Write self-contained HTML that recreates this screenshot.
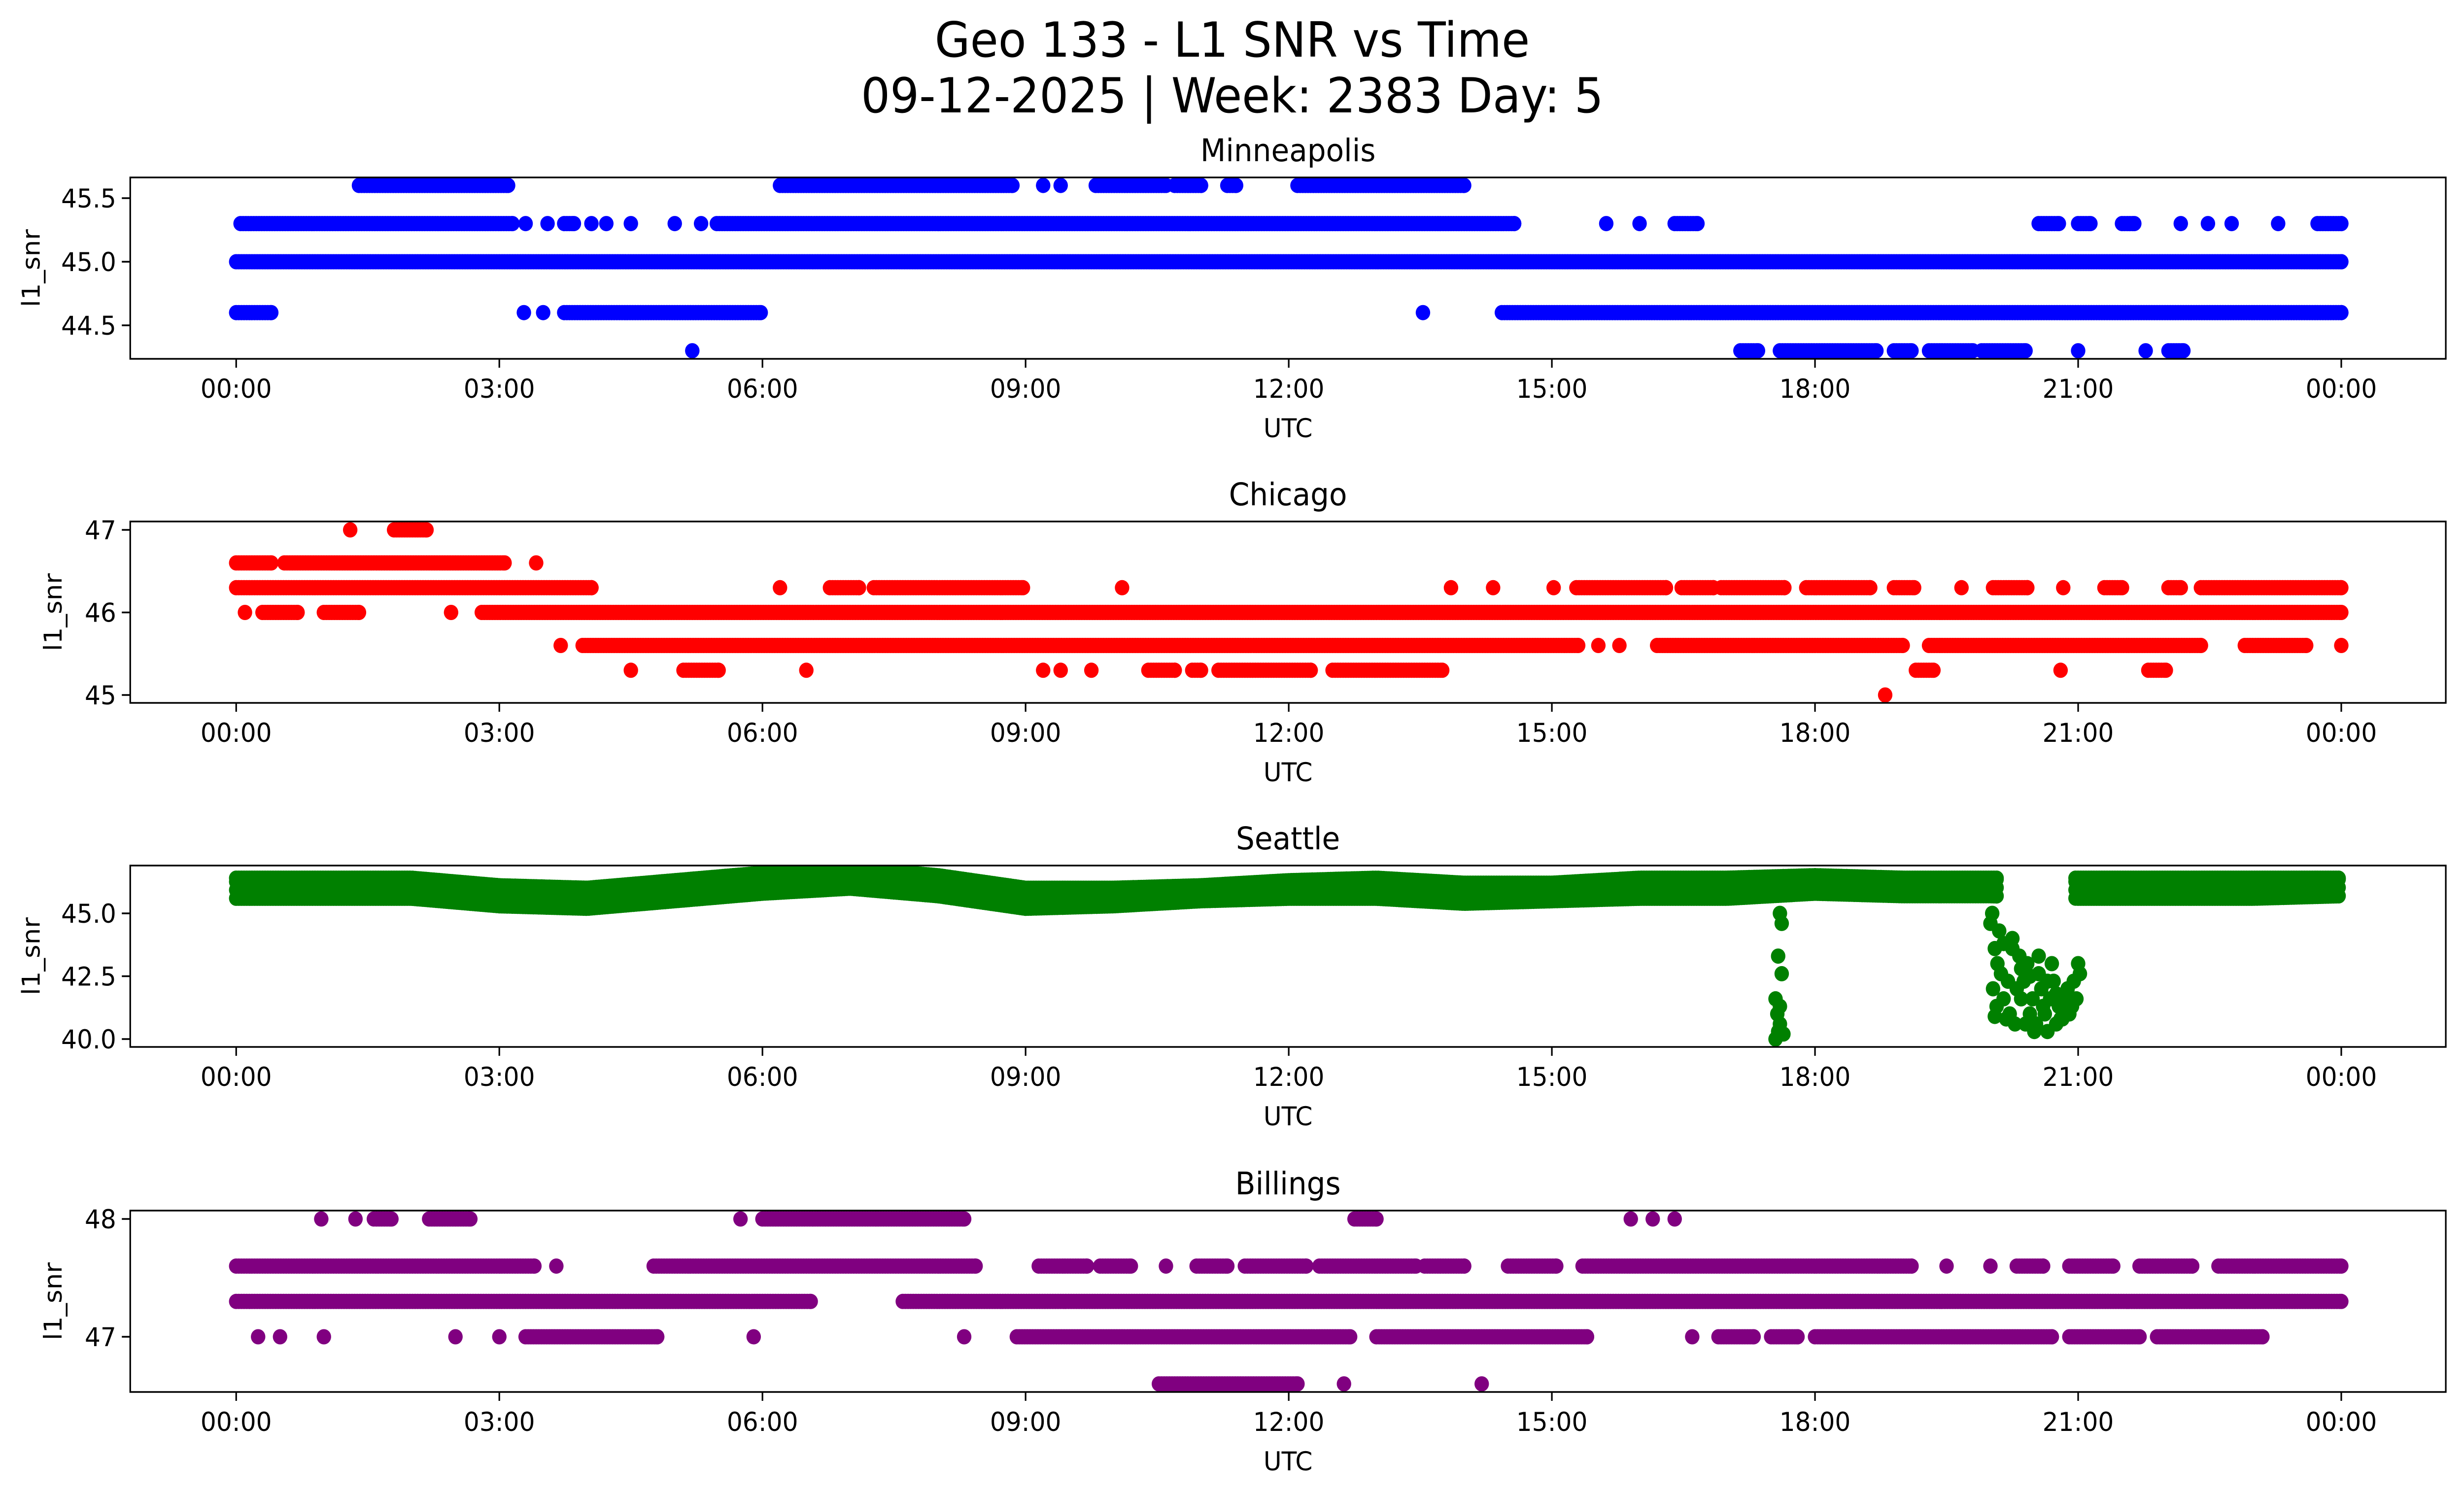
<!DOCTYPE html>
<html><head><meta charset="utf-8"><style>html,body{margin:0;padding:0;background:#fff;width:100%;height:100%;overflow:hidden}svg{display:block;width:100vw;height:100vh}</style></head>
<body>
<svg id="fig" xmlns="http://www.w3.org/2000/svg" viewBox="0 0 5279 3033" preserveAspectRatio="none" font-family="DejaVu Sans, Liberation Sans, sans-serif">
<rect width="5279" height="3033" fill="#fff"/>
<text x="2640" y="115" font-size="98" text-anchor="middle">Geo 133 - L1 SNR vs Time</text>
<text x="2640" y="228" font-size="98" text-anchor="middle">09-12-2025 | Week: 2383 Day: 5</text>
<g id="plots"></g>
</svg>
<script>
// ---------- data ----------
const tickHours = [0,3,6,9,12,15,18,21,24];
const tickLabels = ["00:00","03:00","06:00","09:00","12:00","15:00","18:00","21:00","00:00"];
const cities = ["Minneapolis","Chicago","Seattle","Billings"];

// Minneapolis levels and time runs [start,end] (hours)
const mplsLevels = [44.3, 44.6, 45.0, 45.3, 45.6];
const mplsRuns = [
  [[5.2,5.2],[17.15,17.35],[17.6,18.7],[18.9,19.1],[19.3,19.8],[19.9,20.4],[21.0,21.0],[21.77,21.77],[22.03,22.2]],
  [[0,0.4],[3.28,3.28],[3.5,3.5],[3.74,5.98],[13.53,13.53],[14.43,24]],
  [[0,24]],
  [[0.05,3.15],[3.3,3.3],[3.55,3.55],[3.74,3.85],[4.05,4.05],[4.22,4.22],[4.5,4.5],[5.0,5.0],[5.3,5.3],[5.48,14.57],[15.62,15.62],[16.0,16.0],[16.4,16.66],[20.55,20.78],[21.0,21.14],[21.5,21.64],[22.17,22.17],[22.48,22.48],[22.75,22.75],[23.28,23.28],[23.73,24]],
  [[1.4,3.1],[6.2,8.85],[9.2,9.2],[9.4,9.4],[9.8,10.6],[10.7,11.0],[11.3,11.4],[12.1,14.0]]
];
const mplsTicks = [44.5, 45.0, 45.5];

// Chicago
const chiLevels = [45.0, 45.3, 45.6, 46.0, 46.3, 46.6, 47.0];
const chiRuns = [
  [[18.8,18.8]],
  [[4.5,4.5],[5.1,5.5],[6.5,6.5],[9.2,9.2],[9.4,9.4],[9.75,9.75],[10.4,10.7],[10.9,11.0],[11.2,12.25],[12.5,13.75],[19.15,19.35],[20.8,20.8],[21.8,22.0]],
  [[3.7,3.7],[3.95,15.3],[15.53,15.53],[15.77,15.77],[16.2,19.0],[19.3,22.4],[22.9,23.6],[24,24]],
  [[0.1,0.1],[0.3,0.7],[1.0,1.4],[2.45,2.45],[2.8,24]],
  [[0,4.05],[6.2,6.2],[6.77,7.1],[7.27,8.97],[10.1,10.1],[13.85,13.85],[14.33,14.33],[15.02,15.02],[15.28,16.3],[16.48,16.84],[16.93,17.65],[17.9,18.63],[18.9,19.13],[19.67,19.67],[20.03,20.42],[20.83,20.83],[21.3,21.5],[22.03,22.17],[22.4,24]],
  [[0,0.4],[0.55,3.06],[3.42,3.42]],
  [[1.3,1.3],[1.8,2.17]]
];
const chiTicks = [45, 46, 47];

// Seattle: main band (hourly top/bottom) + drop-outs
const seaHours = [0,1,2,3,4,5,6,7,8,9,10,11,12,13,14,15,16,17,18,19,20,21,22,23,24];
const seaTop = [46.4,46.4,46.4,46.1,46.0,46.3,46.6,46.8,46.5,46.0,46.0,46.1,46.3,46.4,46.2,46.2,46.4,46.4,46.5,46.4,46.4,46.4,46.4,46.4,46.4];
const seaBot = [45.6,45.6,45.6,45.3,45.2,45.5,45.8,46.0,45.7,45.2,45.3,45.5,45.6,45.6,45.4,45.5,45.6,45.6,45.8,45.7,45.7,45.6,45.6,45.6,45.7];
const seaGaps = [[20.1,20.95]];
const dropT = [17.55,17.58,17.6,17.57,17.6,17.55,17.62,17.58,17.62,17.6,17.64,
  20.0,20.02,20.05,20.03,20.07,20.05,20.1,20.12,20.15,20.08,20.18,20.2,20.25,20.22,20.3,20.28,20.35,20.33,20.4,20.38,20.45,20.42,20.5,20.48,20.55,20.52,20.6,20.58,20.65,20.62,20.7,20.68,20.75,20.72,20.8,20.78,20.85,20.82,20.9,20.88,20.95,20.93,21.0,20.98,21.02,20.15,20.25,20.35,20.45,20.55,20.65,20.75,20.85];
const dropV = [40.0,40.3,40.6,41.0,41.3,41.6,42.6,43.3,44.6,45.0,40.2,
  44.6,45.0,43.6,42.0,41.3,40.9,44.3,42.6,41.6,43.0,40.8,42.3,43.6,41.0,42.0,40.6,41.6,43.3,40.6,42.3,41.0,43.0,40.3,41.6,42.6,40.6,41.3,42.0,40.3,41.0,43.0,41.6,40.6,42.3,40.8,41.3,41.6,40.8,41.0,42.0,42.3,41.3,43.0,41.6,42.6,43.8,44.0,42.8,42.5,43.3,42.3,41.8,41.2];
const seaTicks = [40.0, 42.5, 45.0];

// Billings
const bilLevels = [46.6, 47.0, 47.3, 47.6, 48.0];
const bilRuns = [
  [[10.52,12.1],[12.63,12.63],[14.2,14.2]],
  [[0.25,0.25],[0.5,0.5],[1.0,1.0],[2.5,2.5],[3.0,3.0],[3.3,4.8],[5.9,5.9],[8.3,8.3],[8.9,12.7],[13.0,15.4],[16.6,16.6],[16.9,17.3],[17.5,17.8],[18.0,20.7],[20.9,21.7],[21.9,23.1]],
  [[0,6.55],[7.6,24]],
  [[0,3.4],[3.65,3.65],[4.76,8.43],[9.15,9.7],[9.85,10.2],[10.6,10.6],[10.95,11.3],[11.5,12.2],[12.35,13.45],[13.55,14.0],[14.5,15.05],[15.35,19.1],[19.5,19.5],[20.0,20.0],[20.3,20.6],[20.9,21.4],[21.7,22.3],[22.6,24]],
  [[0.97,0.97],[1.36,1.36],[1.57,1.77],[2.2,2.67],[5.75,5.75],[6.0,8.3],[12.75,13.0],[15.9,15.9],[16.15,16.15],[16.4,16.4]]
];
const bilTicks = [47, 48];

// ---------- layout ----------
const NS = "http://www.w3.org/2000/svg";
const L = 279, R = 5240, H = 368;
const tops = [360, 1058, 1756, 2456];
const yRef = [[45.0,531,258],[46,1242.5,167.5],[45,1853,51],[47,2712,239]];
const colors = ["#0000ff","#ff0000","#008000","#800080"];
const xOf = h => 506 + h*187.92;
const root = document.getElementById("plots");
function mk(tag, attrs, parent){ const e=document.createElementNS(NS,tag); for(const k in attrs) e.setAttribute(k,attrs[k]); (parent||root).appendChild(e); return e; }

cities.forEach((city, i) => {
  const top = tops[i], bot = top + H;
  const yOf = v => yRef[i][1] - (v - yRef[i][0]) * yRef[i][2];
  const g = mk("g", {});
  
  
  const cp = mk("clipPath", {id:"cp"+i}, g);
  mk("rect", {x:L, y:top, width:R-L, height:H}, cp);
  const marks = mk("g", {"clip-path":"url(#cp"+i+")", fill:colors[i]}, g);
  
  
  const dot = (h, v) => { const c = mk("circle", {cx:xOf(h).toFixed(1), cy:yOf(v).toFixed(1), r:15.5}, marks);
    
     };
  const drawRuns = (levels, runs) => levels.forEach((lv, k) => runs[k].forEach(([a,b]) => {
    for (let h=a; h<=b+1e-9; h+=0.03) dot(h, lv);
    if (b > a) dot(b, lv);
  }));
  if (i === 0) drawRuns(mplsLevels, mplsRuns);
  if (i === 1) drawRuns(chiLevels, chiRuns);
  if (i === 3) drawRuns(bilLevels, bilRuns);
  if (i === 2) {
    for (let h=0; h<=24; h+=0.03) {
      if (seaGaps.some(([a,b]) => h>a && h<b)) continue;
      const k = Math.min(23, Math.floor(h)), f = h - k;
      const t = seaTop[k] + (seaTop[k+1]-seaTop[k])*f, b = seaBot[k] + (seaBot[k+1]-seaBot[k])*f;
      for (let v=b; v<=t+1e-9; v+=0.33) dot(h, v);
      dot(h, t);
    }
    dropT.forEach((t, k) => dot(t, dropV[k]));
  }
  const fr = mk("rect", {x:L, y:top, width:R-L, height:H, fill:"none", stroke:"#000", "stroke-width":3.4}, g);
  
  
  tickHours.forEach((h, k) => {
    const x = xOf(h);
    mk("line", {x1:x, x2:x, y1:bot, y2:bot+18, stroke:"#000", "stroke-width":3.4}, g);
    const t = mk("text", {x:x, y:bot+79, "font-size":53, "text-anchor":"middle"}, g);
    
    
    t.textContent = tickLabels[k];
  });
  const ticks = [mplsTicks, chiTicks, seaTicks, bilTicks][i];
  const dec = (i===0 || i===2) ? 1 : 0;
  ticks.forEach(v => {
    const y = yOf(v);
    mk("line", {x1:L-18, x2:L, y1:y, y2:y, stroke:"#000", "stroke-width":3.4}, g);
    const t = mk("text", {x:L-30, y:y+19, "font-size":53, "text-anchor":"end"}, g);
    
    
    t.textContent = v.toFixed(dec);
  });
  const xl = mk("text", {x:(L+R)/2, y:bot+159, "font-size":53, "text-anchor":"middle"}, g);
  
  
  xl.textContent = "UTC";
  const ylx = (i===0 || i===2) ? 85 : 132;
  const yl = mk("text", {x:ylx, y:top+H/2, "font-size":53, "text-anchor":"middle", transform:"rotate(-90 "+ylx+" "+(top+H/2)+")"}, g);
  
  
  yl.textContent = "l1_snr";
  const tt = mk("text", {x:(L+R)/2, y:top-33, "font-size":63, "text-anchor":"middle"}, g);
  
  
  tt.textContent = city;
});
</script>
</body></html>
